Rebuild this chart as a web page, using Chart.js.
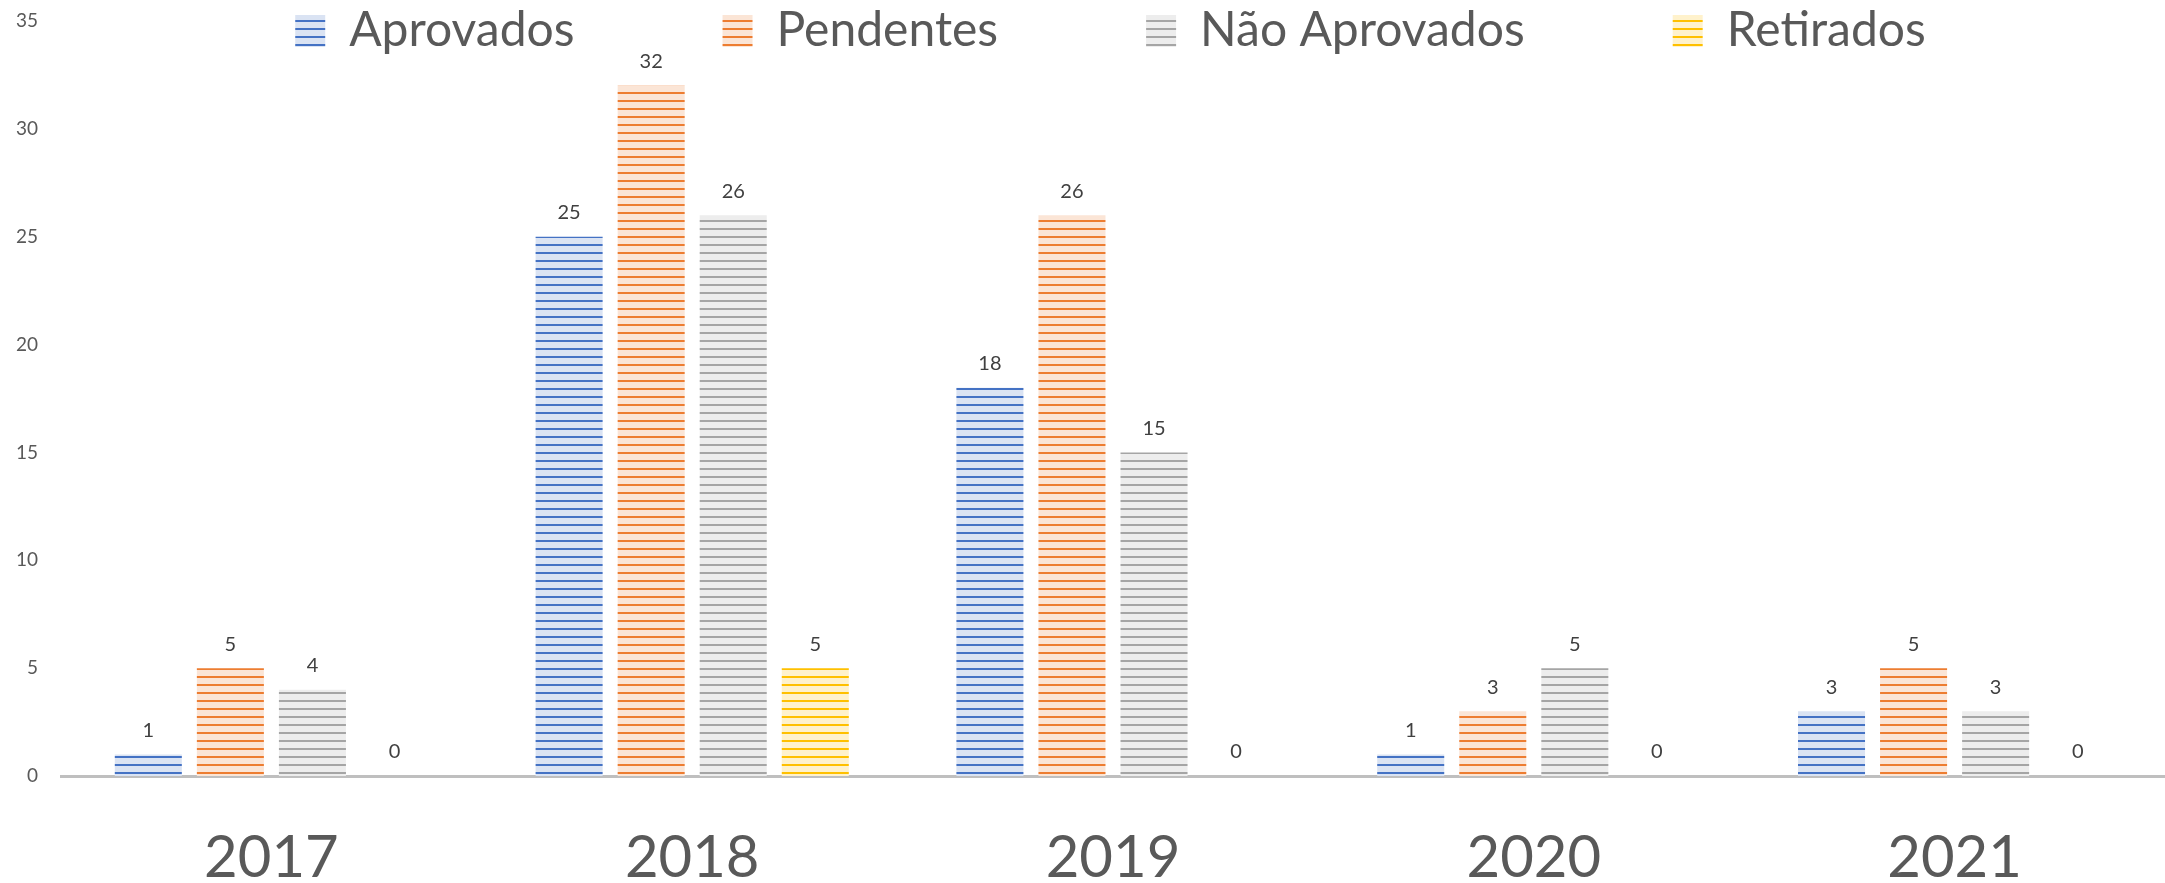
<!DOCTYPE html>
<html>
<head>
<meta charset="utf-8">
<script src="https://cdn.jsdelivr.net/npm/chart.js@4"></script>
<style>
  body { margin: 0; background: #ffffff; }
  canvas { display: block; }
</style>
</head>
<body>
<canvas id="grafico" width="2165" height="883"></canvas>
<script>
const anos = ['2017', '2018', '2019', '2020', '2021'];
const aprovados = [1, 25, 18, 1, 3];
const pendentes = [5, 32, 26, 3, 5];
const naoAprovados = [4, 26, 15, 5, 3];
const retirados = [0, 5, 0, 0, 0];
const ticksY = [0, 5, 10, 15, 20, 25, 30, 35];

// listras horizontais (fundo claro + linha)
function listras(fundo, linha) {
    const c = document.createElement('canvas');
    c.width = 8;
    c.height = 8;
    const g = c.getContext('2d');
    g.fillStyle = fundo;
    g.fillRect(0, 0, 8, 8);
    g.fillStyle = linha;
    g.fillRect(0, 4, 8, 2);
    return document.getElementById('grafico').getContext('2d').createPattern(c, 'repeat');
}

const rotulos = {
    id: 'rotulos',
    afterDatasetsDraw(chart) {
        const ctx = chart.ctx;
        ctx.save();
        ctx.font = '20px Lato';
        ctx.fillStyle = '#404040';
        ctx.textAlign = 'center';
        ctx.textBaseline = 'middle';
        chart.data.datasets.forEach((ds, i) => {
            chart.getDatasetMeta(i).data.forEach((bar, j) => {
                ctx.fillText(ds.data[j], bar.x, bar.y - 24);
            });
        });
        ctx.restore();
    }
};

// legenda por cima da área do gráfico
const legendaTopo = {
    id: 'legendaTopo',
    beforeLayout(chart) {
        const lg = chart.legend;
        if (lg && !lg._ajustada) {
            const fitOriginal = lg.fit;
            lg.fit = function () {
                fitOriginal.call(this);
                this.height = 21;
            };
            lg._ajustada = true;
        }
    },
    afterLayout(chart) {
        const lg = chart.legend;
        if (!lg) return;
        lg.top = -141;
        lg.bottom = 70;
        lg.left += 28;
        lg.right += 28;
    }
};

const ctx = document.getElementById('grafico');
new Chart(ctx, {
    type: 'bar',
    data: {
        labels: anos,
        datasets: [
            { label: 'Aprovados', data: aprovados, backgroundColor: listras('#dae3f3', '#4472c4'), borderWidth: 0 },
            { label: 'Pendentes', data: pendentes, backgroundColor: listras('#fbe5d6', '#ed7d31'), borderWidth: 0 },
            { label: 'Não Aprovados', data: naoAprovados, backgroundColor: listras('#ededed', '#a5a5a5'), borderWidth: 0 },
            { label: 'Retirados', data: retirados, backgroundColor: listras('#fff2cc', '#ffc000'), borderWidth: 0 }
        ]
    },
    options: {
        responsive: false,
        animation: false,
        devicePixelRatio: 1,
        categoryPercentage: 0.78,
        barPercentage: 0.817,
        layout: { padding: 0 },
        plugins: {
            tooltip: { enabled: false },
            legend: {
                position: 'top',
                align: 'center',
                labels: {
                    boxWidth: 30,
                    boxHeight: 32,
                    padding: 148,
                    color: '#595959',
                    font: { family: 'Lato', size: 48 }
                }
            }
        },
        scales: {
            x: {
                grid: { display: true, color: 'rgba(0,0,0,0)', drawTicks: false },
                border: { display: true, color: '#bfbfbf', width: 3 },
                ticks: {
                    color: '#595959',
                    padding: 47,
                    font: { family: 'Lato', size: 58 }
                },
                afterFit(scale) { scale.height = 107; }
            },
            y: {
                min: 0,
                max: 35,
                grid: { display: false, drawTicks: false },
                border: { display: false },
                afterBuildTicks(scale) {
                    scale.ticks = ticksY.map(v => ({ value: v }));
                },
                ticks: {
                    color: '#595959',
                    padding: 23,
                    font: { family: 'Lato', size: 19 }
                },
                afterFit(scale) {
                    scale.width = 61;
                    scale.paddingTop = 0;
                    scale.paddingBottom = 0;
                }
            }
        }
    },
    plugins: [rotulos, legendaTopo]
});
</script>
</body>
</html>
